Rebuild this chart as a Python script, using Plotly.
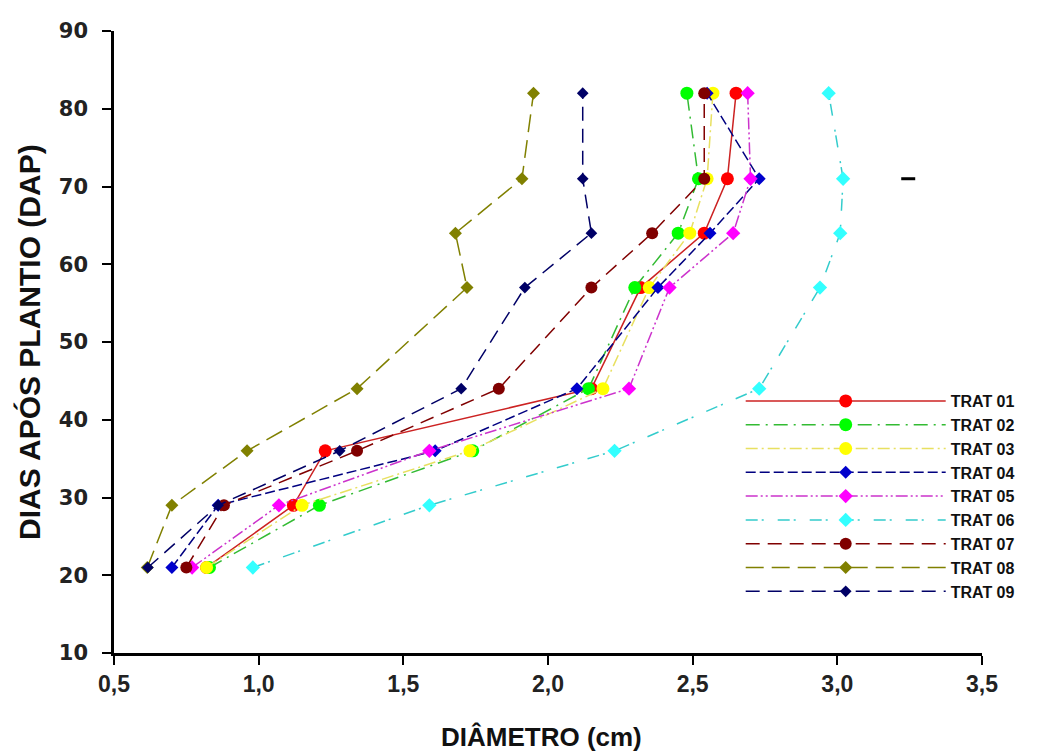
import plotly.graph_objects as go

dias = [21, 29, 36, 44, 57, 64, 71, 82]

trat_names = ["TRAT 01", "TRAT 02", "TRAT 03", "TRAT 04", "TRAT 05",
              "TRAT 06", "TRAT 07", "TRAT 08", "TRAT 09"]

trat01 = [0.82, 1.12, 1.23, 2.15, 2.32, 2.54, 2.62, 2.65]
trat02 = [0.83, 1.21, 1.74, 2.14, 2.30, 2.45, 2.52, 2.48]
trat03 = [0.82, 1.15, 1.73, 2.19, 2.35, 2.49, 2.55, 2.57]
trat04 = [0.70, 0.86, 1.61, 2.10, 2.38, 2.56, 2.73, 2.55]
trat05 = [0.77, 1.07, 1.59, 2.28, 2.42, 2.64, 2.70, 2.69]
trat06 = [0.98, 1.59, 2.23, 2.73, 2.94, 3.01, 3.02, 2.97]
trat07 = [0.75, 0.88, 1.34, 1.83, 2.15, 2.36, 2.54, 2.54]
trat08 = [0.615, 0.70, 0.96, 1.34, 1.72, 1.68, 1.91, 1.95]
trat09 = [0.617, 0.86, 1.28, 1.70, 1.92, 2.15, 2.12, 2.12]

stray_x = [3.245]
stray_y = [71]

x_title = "DIÂMETRO (cm)"
y_title = "DIAS APÓS PLANTIO (DAP)"

series = [trat01, trat02, trat03, trat04, trat05, trat06, trat07, trat08, trat09]

line_colors = ["#cc2222", "#33bb33", "#e8e060", "#000080", "#cc33cc",
               "#33cccc", "#800000", "#808000", "#000066"]
marker_colors = ["#ff0000", "#00ff00", "#ffff00", "#0000cc", "#ff00ff",
                 "#33ffff", "#800000", "#808000", "#000066"]
dashes = ["solid", "14px,6px,2px,6px", "12px,4px,2px,4px", "10px,4px",
          "12px,3px,2px,3px,2px,3px", "12px,4px,2px,14px", "14px,8px",
          "18px,8px", "14px,8px"]
symbols = ["circle", "circle", "circle", "diamond", "diamond",
           "diamond", "circle", "diamond", "diamond"]
msizes = [13, 13, 13, 10, 11, 11, 12, 10, 9]

fig = go.Figure()
for name, xs, lc, mc, d, s, ms in zip(trat_names, series, line_colors,
                                       marker_colors, dashes, symbols, msizes):
    fig.add_trace(go.Scatter(
        x=xs, y=dias, name=name, mode="lines+markers",
        line=dict(color=lc, width=1.5, dash=d),
        marker=dict(color=mc, size=ms, symbol=s, line=dict(width=0)),
    ))

fig.add_trace(go.Scatter(
    x=stray_x, y=stray_y, mode="markers", showlegend=False,
    marker=dict(symbol="line-ew", size=10, line=dict(color="black", width=3)),
))

fig.add_annotation(
    text=x_title, xref="paper", yref="paper", x=0.493, y=-0.135,
    xanchor="center", yanchor="middle", showarrow=False,
    font=dict(size=26, weight="bold", color="#111111"),
)
fig.add_annotation(
    text=y_title, xref="paper", yref="paper", x=-0.098, y=0.5,
    xanchor="center", yanchor="middle", showarrow=False, textangle=-90,
    font=dict(size=30, weight="bold", color="#111111"),
)

fig.update_layout(
    width=1056, height=753,
    margin=dict(l=114, r=74, t=31, b=100),
    paper_bgcolor="white", plot_bgcolor="white",
    separators=",.",
    font=dict(family="Liberation Sans, Arial, sans-serif", color="black"),
    legend=dict(
        x=0.722, y=0.4325, xanchor="left", yanchor="top",
        bgcolor="rgba(0,0,0,0)",
        itemwidth=200,
        tracegroupgap=0,
        font=dict(size=16, weight="bold", color="#111111"),
    ),
    xaxis=dict(
        range=[0.5, 3.5], dtick=0.5, tick0=0.5, tickformat=".1f",
        showline=True, linecolor="black", linewidth=2.5, mirror=False,
        ticks="outside", ticklen=9, tickwidth=2, tickcolor="black",
        showgrid=False, zeroline=False,
        tickfont=dict(size=23, weight="bold", color="#222222"),
    ),
    yaxis=dict(
        range=[10, 90], dtick=10, tick0=10,
        showline=True, linecolor="black", linewidth=2.5, mirror=False,
        ticks="outside", ticklen=9, tickwidth=2, tickcolor="black",
        ticklabelstandoff=10,
        showgrid=False, zeroline=False,
        tickfont=dict(size=21, weight="bold", color="#222222",
                      family="DejaVu Sans, Verdana, sans-serif"),
    ),
)

fig.write_html("out.html", config={"displayModeBar": False},
               post_script="document.body.style.margin='0';")
